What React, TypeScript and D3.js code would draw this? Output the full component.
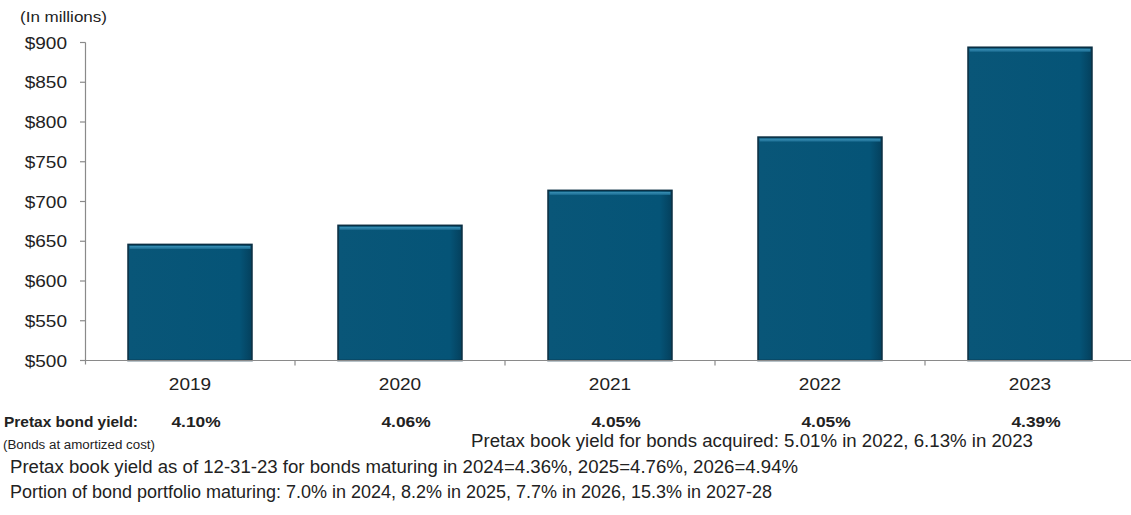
import React from "react";
import * as d3 from "d3";

const categories = ["2019", "2020", "2021", "2022", "2023"];
const values = [646, 670, 714, 781, 894];
const yieldLabels = ["4.10%", "4.06%", "4.05%", "4.05%", "4.39%"];
const yTicks = [500, 550, 600, 650, 700, 750, 800, 850, 900];

const W = 1131;
const H = 515;
const FONT = "'Liberation Sans', Arial, Helvetica, sans-serif";
const SX = 1.12;

function ST(props: {
  x: number;
  y: number;
  anchor?: "start" | "middle" | "end";
  size: number;
  weight?: string;
  children: React.ReactNode;
}) {
  return (
    <text
      transform={`translate(${props.x},${props.y}) scale(${SX},1)`}
      dy="0.36em"
      textAnchor={props.anchor || "start"}
      fontSize={props.size}
      fontWeight={props.weight || "normal"}
      fill="#222"
    >
      {props.children}
    </text>
  );
}

function LT(props: { x: number; y: number; len: number; size: number; weight?: string; anchor?: "start" | "end"; children: React.ReactNode }) {
  return (
    <text
      x={props.anchor === "end" ? props.x - props.len : props.x}
      y={props.y}
      dy="0.36em"
      fontSize={props.size}
      fontWeight={props.weight || "normal"}
      textLength={props.len}
      lengthAdjust="spacingAndGlyphs"
      fill="#222"
    >
      {props.children}
    </text>
  );
}

export default function App() {
  const x = d3
    .scaleBand<string>()
    .domain(categories)
    .range([85, 1135])
    .paddingInner(0.41)
    .paddingOuter(0.205);
  const y = d3.scaleLinear().domain([500, 900]).range([360.5, 42.5]);
  const step = x.step();
  const catTicks = categories.slice(1).map((c) => (x(c) as number) - (step - x.bandwidth()) / 2);

  return (
    <svg
      width={W}
      height={H}
      style={{ position: "absolute", left: 0, top: 0, background: "#fff" }}
      fontFamily={FONT}
    >
      <defs>
        <linearGradient id="barFill" x1="0" x2="1" y1="0" y2="0">
          <stop offset="0" stopColor="#095678" />
          <stop offset="0.9" stopColor="#055477" />
          <stop offset="1" stopColor="#04405d" />
        </linearGradient>
        <linearGradient id="barTop" x1="0" x2="0" y1="0" y2="1">
          <stop offset="0" stopColor="#3a90b5" />
          <stop offset="1" stopColor="#1b6d93" />
        </linearGradient>
      </defs>
      <rect x={0} y={0} width={W} height={H} fill="#fff" />
      <LT x={20} y={17} len={87} size={15}>
        (In millions)
      </LT>

      {/* y axis */}
      <line x1={85.5} x2={85.5} y1={y(900)} y2={y(500) + 4} stroke="#8a8a8a" strokeWidth={1.2} />
      {yTicks.map((t) => (
        <g key={t}>
          <line x1={80} x2={85.5} y1={y(t)} y2={y(t)} stroke="#8a8a8a" strokeWidth={1.2} />
          <ST x={67} y={y(t)} anchor="end" size={17}>
            {"$" + t}
          </ST>
        </g>
      ))}

      {/* bars */}
      {categories.map((c, i) => {
        const bx = x(c) as number;
        const bw = x.bandwidth();
        const by = y(values[i]);
        const bh = y(500) - by;
        return (
          <g key={c}>
            <rect x={bx} y={by} width={bw} height={bh} fill="url(#barFill)" stroke="#0b2f43" strokeWidth={1.6} />
            <rect x={bx + 1.5} y={by + 1.5} width={bw - 3} height={3} fill="url(#barTop)" />
          </g>
        );
      })}

      {/* x axis */}
      <line x1={85} x2={1131} y1={y(500)} y2={y(500)} stroke="#8a8a8a" strokeWidth={1.2} />
      {catTicks.map((t, i) => (
        <line key={i} x1={t} x2={t} y1={y(500)} y2={y(500) + 5} stroke="#8a8a8a" strokeWidth={1.2} />
      ))}
      {categories.map((c) => (
        <ST key={c} x={(x(c) as number) + x.bandwidth() / 2} y={384} anchor="middle" size={17}>
          {c}
        </ST>
      ))}

      {/* bottom annotations */}
      <LT x={4} y={421.5} len={134} size={14} weight="bold">
        Pretax bond yield:
      </LT>
      {categories.map((c, i) => (
        <ST
          key={"y" + c}
          x={(x(c) as number) + x.bandwidth() / 2 + 6}
          y={421}
          anchor="middle"
          size={15.5}
          weight="bold"
        >
          {yieldLabels[i]}
        </ST>
      ))}
      <LT x={3} y={444.5} len={152} size={12}>
        (Bonds at amortized cost)
      </LT>
      <LT x={1033} y={440.5} len={562} size={17.5} anchor="end">
        Pretax book yield for bonds acquired: 5.01% in 2022, 6.13% in 2023
      </LT>
      <LT x={10} y={467} len={788} size={17.5}>
        Pretax book yield as of 12-31-23 for bonds maturing in 2024=4.36%, 2025=4.76%, 2026=4.94%
      </LT>
      <LT x={10} y={492} len={762} size={17.5}>
        Portion of bond portfolio maturing: 7.0% in 2024, 8.2% in 2025, 7.7% in 2026, 15.3% in 2027-28
      </LT>
    </svg>
  );
}
